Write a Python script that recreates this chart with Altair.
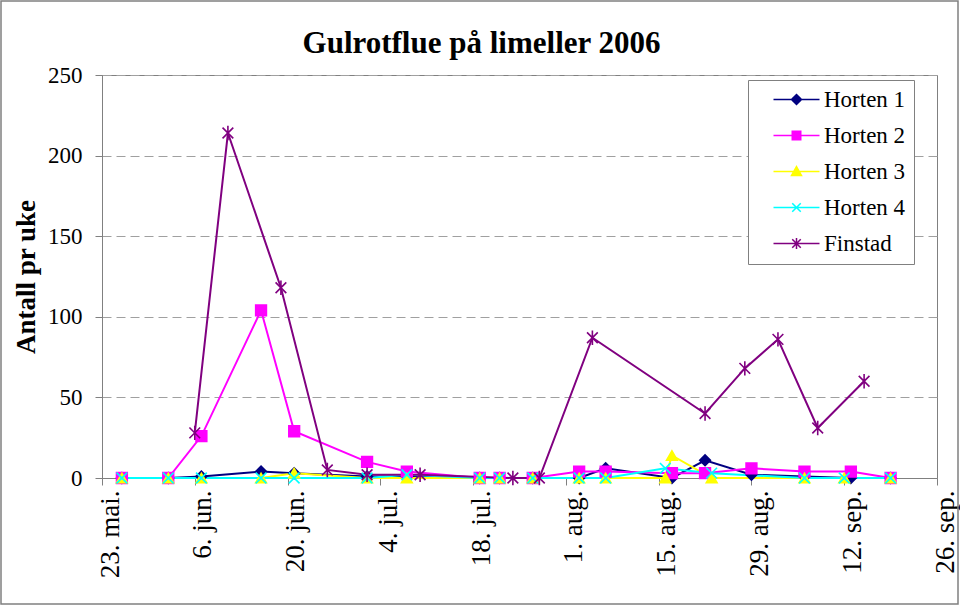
import altair as alt
import pandas as pd

# ---------------- data ----------------
series_names = ["Horten 1", "Horten 2", "Horten 3", "Horten 4", "Finstad"]
series_colors = ["#000080", "#FF00FF", "#FFFF00", "#00FFFF", "#800080"]

h1_dates = ["2006-05-26", "2006-06-02", "2006-06-07", "2006-06-16", "2006-06-21", "2006-07-02",
            "2006-07-08", "2006-07-19", "2006-07-22", "2006-07-27", "2006-08-03", "2006-08-07",
            "2006-08-17", "2006-08-22", "2006-08-29", "2006-09-06", "2006-09-13", "2006-09-19"]
h1_values = [0, 0, 1, 4, 3, 1, 1, 0, 0, 0, 0, 6, 0, 11, 2, 1, 0, 0]

h2_dates = ["2006-05-26", "2006-06-02", "2006-06-07", "2006-06-16", "2006-06-21", "2006-07-02",
            "2006-07-08", "2006-07-19", "2006-07-22", "2006-07-27", "2006-08-03", "2006-08-07",
            "2006-08-17", "2006-08-22", "2006-08-29", "2006-09-06", "2006-09-13", "2006-09-19"]
h2_values = [0, 0, 26, 104, 29, 10, 4, 0, 0, 0, 4, 4, 3, 3, 6, 4, 4, 0]

h3_dates = ["2006-05-26", "2006-06-02", "2006-06-07", "2006-06-16", "2006-06-21", "2006-07-02",
            "2006-07-08", "2006-07-19", "2006-07-22", "2006-07-27", "2006-08-03", "2006-08-07",
            "2006-08-16", "2006-08-17", "2006-08-23", "2006-09-06", "2006-09-12", "2006-09-19"]
h3_values = [0, 0, 0, 0, 3, 0, 0, 0, 0, 0, 0, 0, 0, 14, 0, 0, 0, 0]

h4_dates = ["2006-05-26", "2006-06-02", "2006-06-07", "2006-06-16", "2006-06-21", "2006-07-02",
            "2006-07-08", "2006-07-19", "2006-07-22", "2006-07-27", "2006-08-03", "2006-08-07",
            "2006-08-16", "2006-08-23", "2006-09-06", "2006-09-12", "2006-09-19"]
h4_values = [0, 0, 0, 0, 0, 0, 2, 0, 0, 0, 0, 0, 6, 3, 0, 0, 0]

fin_dates = ["2006-06-06", "2006-06-11", "2006-06-19", "2006-06-26", "2006-07-02", "2006-07-10",
             "2006-07-24", "2006-07-28", "2006-08-05", "2006-08-22", "2006-08-28", "2006-09-02",
             "2006-09-08", "2006-09-15"]
fin_values = [28, 214, 118, 5, 2, 2, 0, 0, 87, 40, 68, 86, 31, 60]

x_tick_dates = [(2006, 5, 23), (2006, 6, 6), (2006, 6, 20), (2006, 7, 4), (2006, 7, 18),
                (2006, 8, 1), (2006, 8, 15), (2006, 8, 29), (2006, 9, 12), (2006, 9, 26)]
y_ticks = [0, 50, 100, 150, 200, 250]
month_names = ["jan.", "feb.", "mar.", "apr.", "mai.", "jun.", "jul.", "aug.", "sep.", "okt.", "nov.", "des."]

# ---------------- styles ----------------
X_PATH = "M-1,-1L1,1M-1,1L1,-1"
AST_PATH = "M-1,-1L1,1M-1,1L1,-1M0,-1.35L0,1.35"
marker_shapes = ["diamond", "square", "triangle-up", X_PATH, AST_PATH]

LINE = "M-4.6,0L4.6,0"
legend_shapes = [
    LINE + "M0,-1L1,0L0,1L-1,0Z",
    LINE + "M-0.85,-0.85L0.85,-0.85L0.85,0.85L-0.85,0.85Z",
    LINE + "M0,-1L1,0.8L-1,0.8Z",
    LINE + "M-0.85,-0.85L0.85,0.85M-0.85,0.85L0.85,-0.85",
    LINE + "M-0.85,-0.85L0.85,0.85M-0.85,0.85L0.85,-0.85M0,-1.1L0,1.1",
]

rows = []
for name, dates, vals in zip(series_names,
                             [h1_dates, h2_dates, h3_dates, h4_dates, fin_dates],
                             [h1_values, h2_values, h3_values, h4_values, fin_values]):
    for d, v in zip(dates, vals):
        rows.append({"series": name, "date": d, "value": v})
df = pd.DataFrame(rows)

FONT = "Liberation Serif"
GRAY = "#808080"

def dt(t):
    return alt.DateTime(year=t[0], month=t[1], date=t[2], utc=True)

label_expr = ("utcdate(datum.value) + '. ' + " + str(month_names) + "[utcmonth(datum.value)]")

x_enc = alt.X(
    "date:T",
    scale=alt.Scale(type="utc", domain=[dt(x_tick_dates[0]), dt(x_tick_dates[-1])], nice=False),
    axis=alt.Axis(
        values=[dt(t) for t in x_tick_dates], labelExpr=label_expr, title=None,
        labelAngle=270, labelAlign="right", labelBaseline="middle", labelOffset=8,
        labelPadding=5, labelFont=FONT, labelFontSize=27, labelColor="black",
        tickSize=7, tickColor=GRAY, domainColor=GRAY, grid=False, labelOverlap=False,
    ),
)
y_enc = alt.Y(
    "value:Q",
    scale=alt.Scale(domain=[0, 250], nice=False),
    axis=alt.Axis(
        values=y_ticks, title="Antall pr uke", titleFont=FONT, titleFontSize=27,
        titleFontWeight="bold", titleColor="black", titleAngle=270, titleX=-76, titleY=201.5,
        titleAlign="center", titleBaseline="middle",
        labelFont=FONT, labelFontSize=23, labelColor="black", labelPadding=13,
        tickSize=7, tickColor=GRAY, domainColor=GRAY,
        grid=True, gridColor="#a0a0a0", gridDash=[9, 5], gridWidth=1,
    ),
)

color_scale = alt.Scale(domain=series_names, range=series_colors)

base = alt.Chart(df).encode(x=x_enc, y=y_enc)

lines = base.mark_line(strokeWidth=2).encode(
    color=alt.Color("series:N", scale=color_scale, legend=None),
    detail="series:N",
)

points = base.mark_point(filled=True, size=115, strokeWidth=1.6, opacity=1).encode(
    color=alt.Color("series:N", scale=color_scale, legend=None),
    stroke=alt.Stroke("series:N", scale=color_scale, legend=None),
    shape=alt.Shape("series:N", scale=alt.Scale(domain=series_names, range=marker_shapes), legend=None),
)

legend_props = dict(
    title=None, orient="none", legendX=646, legendY=5, padding=8,
    strokeColor=GRAY, fillColor="white", rowPadding=12, symbolOffset=29,
    labelOffset=16, labelFont=FONT, labelFontSize=23, labelColor="black",
    labelExpr="datum.label + '\u00a0'",
)

legend_layer = base.mark_point(filled=True, size=100, strokeWidth=2, opacity=1).encode(
    color=alt.Color("series:N", scale=color_scale, legend=alt.Legend(**legend_props)),
    stroke=alt.Stroke("series:N", scale=color_scale, legend=alt.Legend(**legend_props)),
    shape=alt.Shape("series:N", scale=alt.Scale(domain=series_names, range=legend_shapes),
                    legend=alt.Legend(**legend_props)),
).transform_filter("false")

frame = alt.Chart(alt.Data(values=[{"f": 1}])).mark_rect(
    fillOpacity=0, stroke=GRAY, strokeWidth=1.5
).encode(x=alt.value(-101), x2=alt.value(856), y=alt.value(-74), y2=alt.value(529))

chart = alt.layer(frame, lines, points, legend_layer).resolve_scale(
    color="independent", stroke="independent", shape="independent"
).properties(
    width=835, height=403,
    title=alt.TitleParams("Gulrotflue på limeller 2006", font=FONT, fontSize=31,
                          fontWeight="bold", color="black", anchor="middle", dx=-38,
                          offset=22, dy=106, baseline="alphabetic"),
    autosize=alt.AutoSizeParams(type="none"),
    padding={"left": 102, "top": 75, "right": 23, "bottom": 129},
).configure_view(stroke=GRAY, strokeWidth=1)

chart.save("out.html", embed_options={"renderer": "svg", "actions": False})
